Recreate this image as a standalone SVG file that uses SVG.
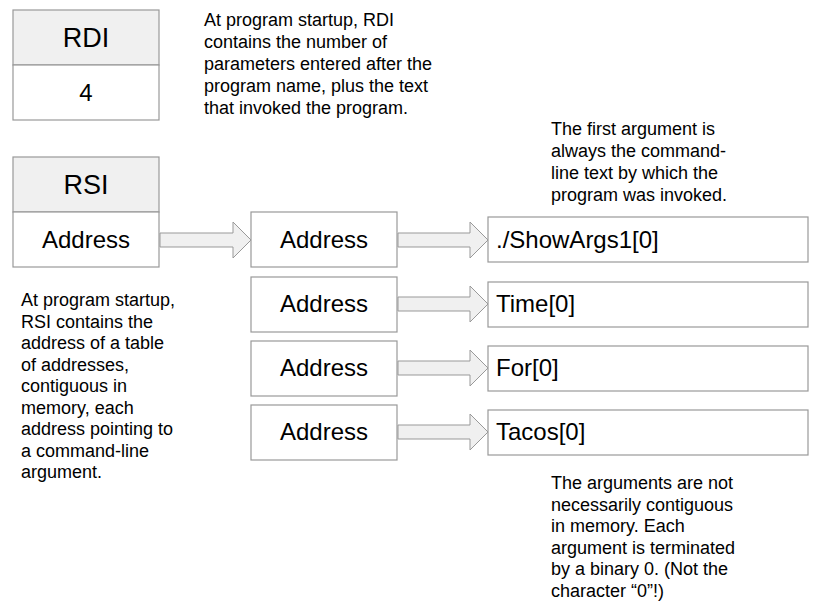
<svg xmlns="http://www.w3.org/2000/svg" width="823" height="607" viewBox="0 0 823 607">
<style>
.box{fill:#fff;stroke:#999;stroke-width:1.2}
.hdr{fill:#f0f0f0;stroke:#999;stroke-width:1.2}
.big{font-family:"Liberation Sans",Arial,sans-serif;font-size:27px;fill:#000;text-anchor:middle}
.mid{font-family:"Liberation Sans",Arial,sans-serif;font-size:24px;fill:#000;text-anchor:middle}
.arg{font-family:"Liberation Sans",Arial,sans-serif;font-size:24px;fill:#000}
.note{font-family:"Liberation Sans",Arial,sans-serif;font-size:18px;fill:#000}
.arr{fill:#f0f0f0;stroke:#999;stroke-width:1}
</style>
<rect width="823" height="607" fill="#fff"/>
<g id="rdi">
<rect class="hdr" x="13" y="10" width="146" height="55"/>
<rect class="box" x="13" y="65" width="146" height="55"/>
<text class="big" x="86" y="47">RDI</text>
<text class="mid" x="86" y="101">4</text>
</g>
<g id="rsi">
<rect class="hdr" x="13" y="157" width="146" height="55"/>
<rect class="box" x="13" y="212" width="146" height="55"/>
<text class="big" x="86" y="194">RSI</text>
<text class="mid" x="86" y="248">Address</text>
</g>
<g id="addr1"><rect class="box" x="251" y="212" width="146" height="55"/><text class="mid" x="324" y="248">Address</text></g>
<g id="addr2"><rect class="box" x="251" y="277" width="146" height="55"/><text class="mid" x="324" y="312">Address</text></g>
<g id="addr3"><rect class="box" x="251" y="341" width="146" height="55"/><text class="mid" x="324" y="376">Address</text></g>
<g id="addr4"><rect class="box" x="251" y="405" width="146" height="55"/><text class="mid" x="324" y="440">Address</text></g>
<g id="arg1"><rect class="box" x="488" y="217" width="320" height="45"/><text class="arg" x="496" y="248">./ShowArgs1[0]</text></g>
<g id="arg2"><rect class="box" x="488" y="282" width="320" height="45"/><text class="arg" x="496" y="312">Time[0]</text></g>
<g id="arg3"><rect class="box" x="488" y="346" width="320" height="45"/><text class="arg" x="496" y="376">For[0]</text></g>
<g id="arg4"><rect class="box" x="488" y="410" width="320" height="45"/><text class="arg" x="496" y="440">Tacos[0]</text></g>
<g id="connectors">
<path class="arr" d="M160,233 H233 V222 L251,240 L233,258 V247 H160 Z"/>
<path class="arr" d="M398,233 H470 V222 L488,240 L470,258 V247 H398 Z"/>
<path class="arr" d="M398,297 H470 V286 L488,304 L470,322 V311 H398 Z"/>
<path class="arr" d="M398,361 H470 V350 L488,368 L470,386 V375 H398 Z"/>
<path class="arr" d="M398,425 H470 V414 L488,432 L470,450 V439 H398 Z"/>
</g>
<g id="note-rdi" class="note">
<text x="204" y="26">At program startup, RDI</text>
<text x="204" y="48">contains the number of</text>
<text x="204" y="70">parameters entered after the</text>
<text x="204" y="92">program name, plus the text</text>
<text x="204" y="114">that invoked the program.</text>
</g>
<g id="note-first" class="note">
<text x="551" y="135">The first argument is</text>
<text x="551" y="157">always the command-</text>
<text x="551" y="179">line text by which the</text>
<text x="551" y="201">program was invoked.</text>
</g>
<g id="note-rsi" class="note">
<text x="21" y="306">At program startup,</text>
<text x="21" y="327.5">RSI contains the</text>
<text x="21" y="349">address of a table</text>
<text x="21" y="370.5">of addresses,</text>
<text x="21" y="392">contiguous in</text>
<text x="21" y="413.5">memory, each</text>
<text x="21" y="435">address pointing to</text>
<text x="21" y="456.5">a command-line</text>
<text x="21" y="478">argument.</text>
</g>
<g id="note-args" class="note">
<text x="551" y="489">The arguments are not</text>
<text x="551" y="510.5">necessarily contiguous</text>
<text x="551" y="532">in memory. Each</text>
<text x="551" y="553.5">argument is terminated</text>
<text x="551" y="575">by a binary 0. (Not the</text>
<text x="551" y="596.5">character “0”!)</text>
</g>
</svg>
